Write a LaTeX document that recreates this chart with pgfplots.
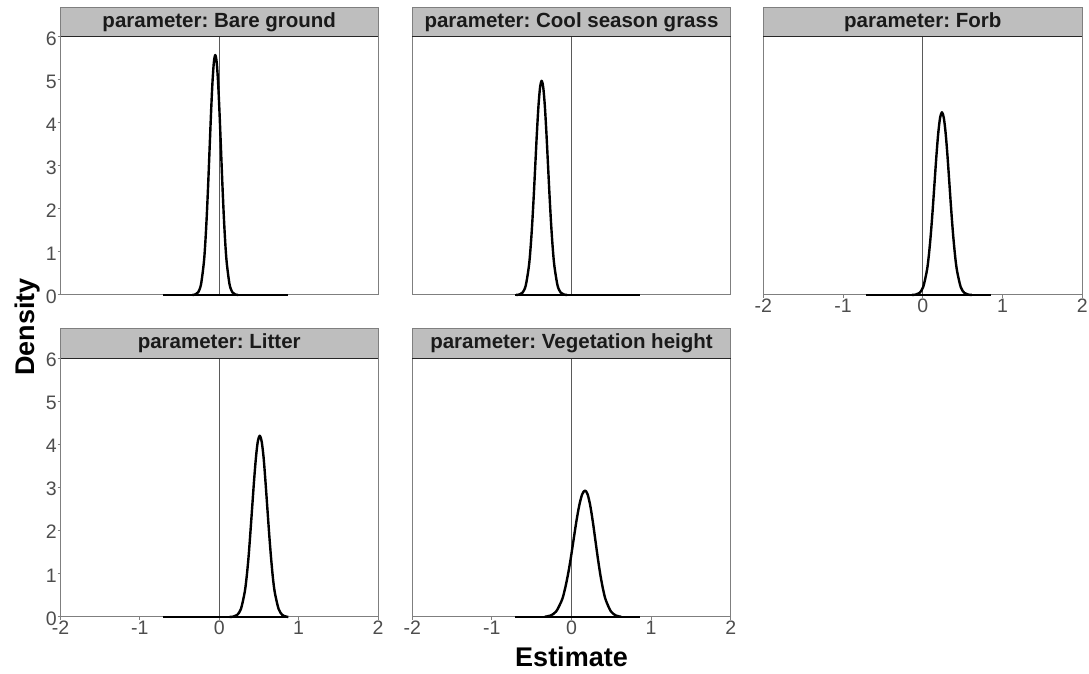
\documentclass[border=0pt]{standalone}
\usepackage{fontspec}
\setmainfont{Liberation Sans}
\usepackage{pgfplots}
\pgfplotsset{compat=1.18}
\frenchspacing
\definecolor{stripfill}{HTML}{BEBEBE}
\definecolor{bordergray}{HTML}{7F7F7F}
\definecolor{ticktext}{HTML}{4D4D4D}
\definecolor{zeroline}{HTML}{5A5A5A}
\definecolor{striptext}{HTML}{1A1A1A}
\pgfplotsset{
  panel/.style={
    scale only axis, width=318pt, height=258pt,
    xmin=-2,xmax=2,ymin=0,ymax=6,
    axis line style={draw=bordergray,line width=1pt},
    tick style={draw=bordergray,line width=1pt},
    tick align=outside, major tick length=3pt,
    xtick pos=bottom, ytick pos=left,
    xtick={-2,-1,0,1,2}, ytick={0,1,...,6},
    ticklabel style={font=\fontsize{19.5}{22}\selectfont, text=ticktext, inner sep=0pt},
    xticklabel style={anchor=north, yshift=-0.5pt},
    yticklabel style={anchor=east, xshift=-0.5pt, yshift=-1.5pt},
    /pgf/number format/assume math mode=true,
    clip=false,
  },
  nox/.style={xtick=\empty}, noy/.style={ytick=\empty},
}
\newcommand{\strip}[1]{%
  \draw[fill=stripfill,draw=bordergray,line width=1pt] (rel axis cs:0,1) rectangle ([yshift=29.5pt]rel axis cs:1,1);
  \node[font=\fontsize{20.5}{24}\selectfont\bfseries, text=striptext] at ([yshift=14.75pt]rel axis cs:0.5,1) {#1};
  \draw[black!85, line width=1pt] (rel axis cs:0,1) -- (rel axis cs:1,1);
}
\newcommand{\zeroline}{\addplot[zeroline, line width=1pt] coordinates {(0,0)(0,6)};}
\tikzset{dens/.style={black, line width=2.4pt, smooth, tension=0.5, line join=round}}
\begin{document}
\begin{tikzpicture}
\useasboundingbox (0pt,0pt) rectangle (1089pt,673pt);
% Bare ground
\begin{axis}[panel, nox, at={(60.5pt,636pt)}, anchor=north west, width=317.5pt]
\zeroline
\addplot[black, line width=2.4pt] coordinates {(-0.71,0)(0.87,0)};
\addplot[dens] coordinates {(-0.338,0.002) (-0.302,0.012) (-0.266,0.062) (-0.230,0.245) (-0.194,0.755) (-0.176,1.207) (-0.158,1.812) (-0.140,2.555) (-0.122,3.384) (-0.104,4.212) (-0.086,4.924) (-0.068,5.408) (-0.05,5.58) (-0.032,5.408) (-0.014,4.924) (0.004,4.212) (0.022,3.384) (0.040,2.555) (0.058,1.812) (0.076,1.207) (0.094,0.755) (0.130,0.245) (0.166,0.062) (0.202,0.012) (0.238,0.002)};
\strip{parameter: Bare ground}
\end{axis}
% Cool season grass
\begin{axis}[panel, nox, noy, at={(412.3pt,636pt)}, anchor=north west, width=318.4pt]
\zeroline
\addplot[black, line width=2.4pt] coordinates {(-0.71,0)(0.86,0)};
\addplot[dens] coordinates {(-0.695,0.0015) (-0.655,0.011) (-0.615,0.055) (-0.575,0.219) (-0.535,0.674) (-0.515,1.077) (-0.495,1.617) (-0.475,2.280) (-0.455,3.020) (-0.435,3.759) (-0.415,4.395) (-0.395,4.827) (-0.375,4.98) (-0.355,4.827) (-0.335,4.395) (-0.315,3.759) (-0.295,3.020) (-0.275,2.280) (-0.255,1.617) (-0.235,1.077) (-0.215,0.674) (-0.175,0.219) (-0.135,0.055) (-0.095,0.011) (-0.055,0.0015)};
\strip{parameter: Cool season grass}
\end{axis}
% Forb
\begin{axis}[panel, noy, at={(763.3pt,636pt)}, anchor=north west, width=319pt]
\zeroline
\addplot[black, line width=2.4pt] coordinates {(-0.71,0)(0.86,0)};
\addplot[dens] coordinates {(-0.136,0.001) (-0.089,0.009) (-0.042,0.047) (0.005,0.187) (0.052,0.575) (0.0755,0.919) (0.099,1.380) (0.1225,1.946) (0.146,2.578) (0.1695,3.208) (0.193,3.751) (0.2165,4.119) (0.24,4.25) (0.2635,4.119) (0.287,3.751) (0.3105,3.208) (0.334,2.578) (0.3575,1.946) (0.381,1.380) (0.4045,0.919) (0.428,0.575) (0.475,0.187) (0.522,0.047) (0.569,0.009) (0.616,0.001)};
\strip{parameter: Forb}
\end{axis}
% Litter
\begin{axis}[panel, at={(60.5pt,315pt)}, anchor=north west, width=317.5pt, height=259pt]
\zeroline
\addplot[black, line width=2.4pt] coordinates {(-0.71,0)(0.87,0)};
\addplot[dens] coordinates {(0.130,0.001) (0.178,0.009) (0.225,0.047) (0.273,0.184) (0.320,0.568) (0.344,0.908) (0.368,1.364) (0.391,1.923) (0.415,2.547) (0.439,3.170) (0.463,3.707) (0.486,4.071) (0.51,4.2) (0.534,4.071) (0.558,3.707) (0.581,3.170) (0.605,2.547) (0.629,1.923) (0.653,1.364) (0.676,0.908) (0.700,0.568) (0.748,0.184) (0.795,0.047) (0.843,0.009) (0.87,0.002)};
\strip{parameter: Litter}
\end{axis}
% Vegetation height
\begin{axis}[panel, noy, at={(412.3pt,315pt)}, anchor=north west, width=318.4pt, height=259pt]
\zeroline
\addplot[black, line width=2.4pt] coordinates {(-0.71,0)(0.86,0)};
\addplot[dens] coordinates {(-0.3375,0.006) (-0.265,0.033) (-0.1925,0.129) (-0.12,0.396) (-0.084,0.634) (-0.0475,0.951) (-0.011,1.341) (0.025,1.777) (0.061,2.212) (0.0975,2.586) (0.134,2.840) (0.17,2.93) (0.2025,2.840) (0.235,2.586) (0.2675,2.212) (0.30,1.777) (0.3325,1.341) (0.365,0.951) (0.3975,0.634) (0.43,0.396) (0.495,0.129) (0.56,0.033) (0.625,0.006)};
\strip{parameter: Vegetation height}
\end{axis}
\node[font=\fontsize{27}{30}\selectfont\bfseries, rotate=90] at (28pt,346pt) {Density};
\node[font=\fontsize{27}{30}\selectfont\bfseries] at (571.5pt,16pt) {Estimate};
\end{tikzpicture}
\end{document}
